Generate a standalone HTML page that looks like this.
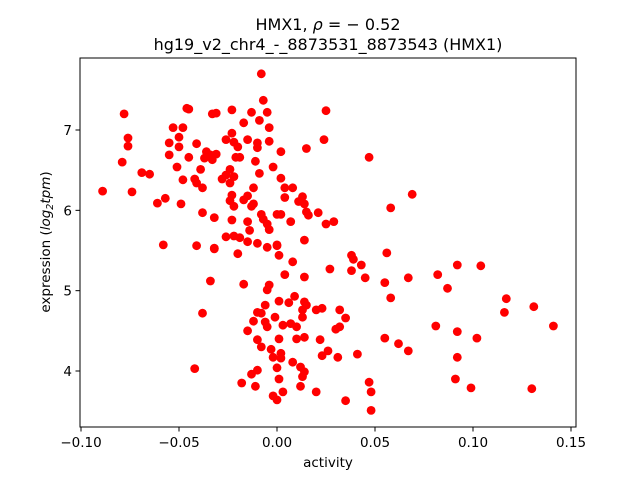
<!DOCTYPE html>
<html><head><meta charset="utf-8"><style>
body{margin:0;background:#fff;}
svg{display:block;font-family:"DejaVu Sans","Liberation Sans",sans-serif;}
</style></head><body>
<svg id="chart" width="640" height="480" xmlns="http://www.w3.org/2000/svg">
<rect width="640" height="480" fill="#fff"/>
<text x="328" y="30" text-anchor="middle" font-size="16">HMX1, <tspan font-style="italic">ρ</tspan> = − 0.52</text>
<text x="328" y="50" text-anchor="middle" font-size="16">hg19_v2_chr4_-_8873531_8873543 (HMX1)</text>
<g id="points"></g>
<rect x="80" y="58" width="496" height="369" fill="none" stroke="#000" stroke-width="1"/>
<g id="xticks"></g>
<g id="yticks"></g>
<text x="328" y="467" text-anchor="middle" font-size="13.5">activity</text>
<text transform="translate(50,242) rotate(-90)" text-anchor="middle" font-size="13.5">expression (<tspan font-style="italic">log</tspan><tspan font-size="9.5" font-style="italic" dy="3">2</tspan><tspan font-style="italic" dy="-3">tpm</tspan>)</text>
</svg>
<script>
const xVals=[-0.008,-0.007,-0.078,-0.046,-0.045,-0.033,-0.031,-0.023,-0.013,-0.005,-0.009,-0.017,-0.004,-0.053,-0.048,-0.023,-0.076,-0.076,-0.050,-0.055,-0.050,-0.041,-0.026,-0.022,-0.020,-0.015,-0.010,-0.010,-0.004,-0.036,-0.034,-0.031,-0.037,-0.033,-0.055,-0.045,-0.021,-0.019,-0.011,-0.079,-0.051,-0.039,-0.002,-0.069,-0.065,-0.024,-0.026,-0.022,-0.028,-0.024,-0.009,-0.048,-0.042,-0.041,-0.038,-0.012,-0.089,-0.074,-0.023,-0.024,-0.022,-0.015,-0.017,-0.013,-0.012,-0.061,-0.057,-0.049,-0.038,-0.032,-0.023,-0.008,-0.007,-0.005,-0.004,-0.015,-0.014,0.000,-0.026,-0.022,-0.019,-0.015,-0.010,0.000,-0.058,-0.041,-0.032,-0.005,
0.025,0.024,0.015,0.002,0.047,0.002,0.004,0.008,0.004,0.013,0.011,0.014,0.069,0.058,0.002,0.015,0.016,0.021,0.007,0.025,0.029,0.014,0.000,
-0.032,-0.020,0.001,0.008,0.038,0.039,0.043,0.038,0.045,0.027,0.004,0.014,-0.034,-0.017,-0.004,-0.005,0.001,0.009,0.006,0.014,0.015,0.013,-0.006,-0.038,-0.010,-0.008,-0.012,-0.006,-0.005,-0.001,0.013,0.020,0.023,0.032,0.035,0.003,0.007,0.010,0.030,0.032,-0.015,-0.010,-0.008,0.001,0.010,0.014,0.022,0.026,0.023,-0.003,0.002,-0.002,0.002,0.000,0.031,0.041,0.008,0.012,0.014,0.013,-0.010,-0.013,-0.018,-0.011,0.001,0.012,0.020,0.003,-0.002,0.000,0.035,0.047,0.048,0.048,
0.056,0.055,0.067,0.058,0.082,0.092,0.104,0.087,0.117,0.116,0.131,0.141,0.081,0.092,0.102,0.055,0.062,0.067,0.092,0.091,0.099,0.130,-0.042];
const yVals=[7.70,7.37,7.20,7.27,7.26,7.20,7.21,7.25,7.22,7.22,7.12,7.09,7.03,7.03,7.03,6.96,6.90,6.80,6.91,6.84,6.79,6.83,6.88,6.85,6.79,6.88,6.84,6.78,6.86,6.73,6.69,6.70,6.65,6.63,6.69,6.66,6.66,6.66,6.61,6.60,6.54,6.51,6.54,6.47,6.45,6.51,6.44,6.42,6.39,6.34,6.46,6.38,6.39,6.34,6.28,6.28,6.24,6.23,6.19,6.12,6.05,6.18,6.13,6.05,6.08,6.09,6.15,6.08,5.97,5.91,5.88,5.95,5.89,5.83,5.76,5.86,5.75,5.95,5.67,5.68,5.66,5.61,5.59,5.57,5.57,5.56,5.53,5.54,
7.24,6.88,6.77,6.73,6.66,6.40,6.28,6.28,6.16,6.17,6.11,6.08,6.20,6.03,5.95,5.98,5.94,5.97,5.86,5.83,5.86,5.63,5.56,
5.52,5.46,5.44,5.36,5.44,5.39,5.32,5.25,5.16,5.27,5.20,5.17,5.12,5.08,5.07,5.01,4.87,4.93,4.85,4.86,4.82,4.76,4.82,4.72,4.73,4.72,4.62,4.61,4.55,4.67,4.67,4.76,4.78,4.76,4.66,4.57,4.59,4.55,4.52,4.55,4.50,4.39,4.30,4.40,4.40,4.42,4.39,4.25,4.19,4.27,4.22,4.17,4.16,4.04,4.17,4.21,4.11,4.05,3.99,3.93,4.01,3.96,3.85,3.81,3.90,3.81,3.74,3.74,3.69,3.64,3.63,3.86,3.74,3.51,
5.47,5.10,5.16,4.91,5.20,5.32,5.31,5.03,4.90,4.73,4.80,4.56,4.56,4.49,4.41,4.41,4.34,4.25,4.17,3.90,3.79,3.78,4.03];
const xTickVals=[-0.10,-0.05,0.00,0.05,0.10,0.15];
const xTickLabels=["−0.10","−0.05","0.00","0.05","0.10","0.15"];
const yTickVals=[4,5,6,7];
const yTickLabels=["4","5","6","7"];
const NS="http://www.w3.org/2000/svg";
function xs(v){return 277+v*1960;}
function ys(v){return 371-(v-4)*80.33;}
const pg=document.getElementById('points');
for(let i=0;i<xVals.length;i++){
  const c=document.createElementNS(NS,'circle');
  c.setAttribute('cx',xs(xVals[i]).toFixed(1));
  c.setAttribute('cy',ys(yVals[i]).toFixed(1));
  c.setAttribute('r','4.4');
  c.setAttribute('fill','#ff0000');
  
  
  pg.appendChild(c);
}
const xg=document.getElementById('xticks');
xTickVals.forEach((v,i)=>{
  const x=xs(v);
  const l=document.createElementNS(NS,'line');
  l.setAttribute('x1',x);l.setAttribute('x2',x);l.setAttribute('y1',427);l.setAttribute('y2',431.5);
  l.setAttribute('stroke','#000');
  
  
  xg.appendChild(l);
  const t=document.createElementNS(NS,'text');
  t.setAttribute('x',x);t.setAttribute('y',447);t.setAttribute('text-anchor','middle');t.setAttribute('font-size','13.5');
  t.textContent=xTickLabels[i];
  
  
  xg.appendChild(t);
});
const yg=document.getElementById('yticks');
yTickVals.forEach((v,i)=>{
  const y=ys(v);
  const l=document.createElementNS(NS,'line');
  l.setAttribute('x1',75.5);l.setAttribute('x2',80);l.setAttribute('y1',y);l.setAttribute('y2',y);
  l.setAttribute('stroke','#000');
  
  
  yg.appendChild(l);
  const t=document.createElementNS(NS,'text');
  t.setAttribute('x',72);t.setAttribute('y',y+5);t.setAttribute('text-anchor','end');t.setAttribute('font-size','13.5');
  t.textContent=yTickLabels[i];
  
  
  yg.appendChild(t);
});
</script>
</body></html>
